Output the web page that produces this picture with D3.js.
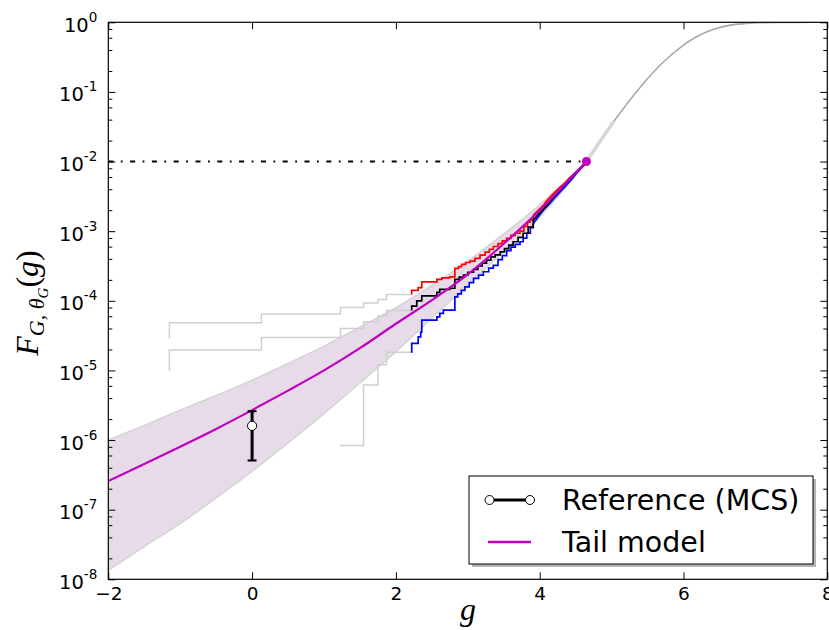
<!DOCTYPE html>
<html>
<head>
<meta charset="utf-8">
<script src="https://cdn.jsdelivr.net/npm/d3@7"></script>
<style>
  html, body { margin: 0; padding: 0; background: #fff; }
  svg { display: block; }
</style>
</head>
<body>
<svg id="chart" width="829" height="630"></svg>
<script>
// ---------------- data ----------------
const xTicks = [-2, 0, 2, 4, 6, 8];
const xTickLabels = ["\u22122", "0", "2", "4", "6", "8"];
const yExponents = [0, -1, -2, -3, -4, -5, -6, -7, -8];

// full distribution (grey S-curve)
const cdfX = [4.65, 4.84, 5.02, 5.26, 5.49, 5.72, 5.95, 6.18, 6.41, 6.65, 6.88, 7.1, 7.3, 7.6, 8.0];
const cdfF = [0.0100, 0.0195, 0.0363, 0.0776, 0.151, 0.269, 0.43, 0.62, 0.79, 0.91, 0.966, 0.986, 0.995, 0.999, 1.0];

// tail model (log10 F) and its confidence band
const tailX  = [-2, -1.5, -1, -0.5, 0, 0.5, 1, 1.5, 2, 2.5, 3, 3.5, 4, 4.3, 4.65];
const tailLog = [-6.59, -6.345, -6.095, -5.84, -5.57, -5.29, -5.00, -4.68, -4.33, -3.99, -3.62, -3.18, -2.70, -2.38, -2.0];
const bandUpperLog = [-6.0, -5.79, -5.57, -5.36, -5.14, -4.90, -4.65, -4.38, -4.10, -3.78, -3.43, -3.04, -2.62, -2.34, -2.0];
const bandLowerLog = [-7.87, -7.53, -7.2, -6.83, -6.45, -6.04, -5.62, -5.18, -4.73, -4.25, -3.77, -3.29, -2.80, -2.45, -2.0];

// empirical CDF steps: grey part (low probabilities) then coloured part
const upperGreyX = [-1.15, -1.15, 0.13, 1.23, 1.55, 1.75, 1.87, 2.22];
const upperGreyLog = [-4.54, -4.316, -4.19, -4.095, -4.03, -3.98, -3.908, -3.908];
const midGreyX = [-1.15, -1.15, 0.13, 1.23, 1.55, 1.75, 1.87, 2.22];
const midGreyLog = [-5.01, -4.708, -4.526, -4.397, -4.30, -4.22, -4.14, -4.14];
const lowGreyX = [1.22, 1.55, 1.75, 1.87, 2.22];
const lowGreyLog = [-6.08, -5.21, -4.92, -4.74, -4.747];

const redX = [2.22, 2.22, 2.31, 2.36, 2.57, 2.64, 2.75, 2.82, 2.87, 2.915, 2.97, 3.03, 3.1, 3.17, 3.24, 3.3, 3.355, 3.42, 3.48, 3.54, 3.6, 3.66, 3.726, 3.78, 3.83, 3.865, 3.91, 3.96, 4.05, 4.1, 4.2, 4.28, 4.33, 4.42, 4.5, 4.58, 4.65];
const redLog = [-3.908, -3.85, -3.81, -3.727, -3.693, -3.67, -3.655, -3.535, -3.51, -3.477, -3.45, -3.43, -3.39, -3.343, -3.30, -3.26, -3.22, -3.18, -3.14, -3.103, -3.06, -3.03, -3.0, -2.93, -2.87, -2.84, -2.77, -2.72, -2.63, -2.56, -2.45, -2.37, -2.33, -2.23, -2.16, -2.08, -2.0];

const blackX = [2.22, 2.22, 2.29, 2.36, 2.57, 2.61, 2.75, 2.82, 2.88, 2.94, 3.0, 3.08, 3.14, 3.2, 3.26, 3.32, 3.38, 3.45, 3.51, 3.57, 3.63, 3.7, 3.77, 3.84, 3.91, 3.98, 4.05, 4.1, 4.2, 4.3, 4.4, 4.5, 4.58, 4.65];
const blackLog = [-4.14, -4.076, -4.0, -3.928, -3.88, -3.836, -3.82, -3.693, -3.66, -3.63, -3.59, -3.55, -3.5, -3.46, -3.415, -3.37, -3.34, -3.296, -3.25, -3.2, -3.152, -3.09, -3.03, -2.94, -2.84, -2.76, -2.69, -2.63, -2.5, -2.39, -2.27, -2.16, -2.08, -2.0];

const blueX = [2.22, 2.22, 2.31, 2.345, 2.36, 2.57, 2.61, 2.66, 2.82, 2.86, 2.91, 2.96, 3.02, 3.08, 3.15, 3.215, 3.29, 3.355, 3.42, 3.48, 3.54, 3.6, 3.66, 3.726, 3.77, 3.82, 3.87, 3.91, 3.96, 4.05, 4.14, 4.2, 4.28, 4.36, 4.44, 4.51, 4.58, 4.65];
const blueLog = [-4.747, -4.612, -4.517, -4.45, -4.277, -4.23, -4.18, -4.134, -3.943, -3.9, -3.85, -3.80, -3.74, -3.678, -3.63, -3.583, -3.53, -3.49, -3.41, -3.35, -3.28, -3.23, -3.19, -3.152, -3.10, -3.03, -2.95, -2.89, -2.82, -2.70, -2.6, -2.53, -2.44, -2.35, -2.26, -2.17, -2.09, -2.02];

// MCS reference point with error bar
const refX = [0];
const refF = [1.6e-6];
const refLo = [5.1e-7];
const refHi = [2.6e-6];

// threshold
const threshX = [-2, 4.65];
const threshF = 1e-2;

const legendLabels = ["Reference (MCS)", "Tail model"];

// ---------------- layout ----------------
const svg = d3.select("#chart");
const L = 108.3, R = 827.3, T = 22.3, B = 579.3;
const x = d3.scaleLinear().domain([-2, 8]).range([L, R]);
const y = d3.scaleLog().domain([1e-8, 1]).range([B, T]);
const P = v => Math.pow(10, v);

const MAG = "#bf00bf";
const plot = svg.append("g");
const clipId = "clipP";
svg.append("defs").append("clipPath").attr("id", clipId)
  .append("rect").attr("x", L).attr("y", T).attr("width", R - L).attr("height", B - T);
plot.attr("clip-path", `url(#${clipId})`);

// band
const bandData = tailX.map((d, i) => ({x: d, lo: P(bandLowerLog[i]), hi: P(bandUpperLog[i])}));
plot.append("path").datum(bandData)
  .attr("d", d3.area().x(d => x(d.x)).y0(d => y(d.lo)).y1(d => y(d.hi)).curve(d3.curveMonotoneX))
  .attr("fill", "#e7dbe9").attr("stroke", "none");
const smooth = d3.line().x(d => x(d[0])).y(d => y(d[1])).curve(d3.curveMonotoneX);
plot.append("path").datum(tailX.map((d, i) => [d, P(bandUpperLog[i])]))
  .attr("d", smooth).attr("fill", "none").attr("stroke", "#d4d4d4").attr("stroke-width", 1.5);
plot.append("path").datum(tailX.map((d, i) => [d, P(bandLowerLog[i])]))
  .attr("d", smooth).attr("fill", "none").attr("stroke", "#d4d4d4").attr("stroke-width", 1.5);

// grey CDF curve
const cdfPts = cdfX.map((d, i) => [d, cdfF[i]]);
const smoothBasis = d3.line().x(d => x(d[0])).y(d => y(d[1])).curve(d3.curveCatmullRom.alpha(0.5));
plot.append("path").datum(cdfPts)
  .attr("d", smoothBasis).attr("fill", "none").attr("stroke", "#a9a9a9").attr("stroke-width", 1.6);
plot.append("path").datum(cdfPts.slice(0, 3))
  .attr("d", smoothBasis).attr("fill", "none")
  .attr("stroke", "#d6d6d6").attr("stroke-width", 3.5).attr("stroke-linecap", "round");

// step lines: staircase, jagged line near the top where the steps become tiny
const stepLine = d3.line().x(d => x(d[0])).y(d => y(d[1])).curve(d3.curveStepAfter);
const linLine = d3.line().x(d => x(d[0])).y(d => y(d[1]));
function steps(xs, logs, color, w, split) {
  const pts = xs.map((d, i) => [d, P(logs[i])]);
  let k = pts.findIndex(p => p[0] >= split);
  if (k < 0) k = pts.length - 1;
  plot.append("path").datum(pts.slice(0, k + 1))
    .attr("d", stepLine).attr("fill", "none").attr("stroke", color)
    .attr("stroke-width", w).attr("stroke-linejoin", "miter");
  if (k < pts.length - 1) {
    plot.append("path").datum(pts.slice(k))
      .attr("d", linLine).attr("fill", "none").attr("stroke", color)
      .attr("stroke-width", w).attr("stroke-linejoin", "round");
  }
}
steps(upperGreyX, upperGreyLog, "#cfcfcf", 1.5, 99);
steps(midGreyX, midGreyLog, "#cfcfcf", 1.5, 99);
steps(lowGreyX, lowGreyLog, "#cfcfcf", 1.5, 99);
steps(blueX, blueLog, "#0000ff", 1.7, 3.9);
steps(redX, redLog, "#ff0000", 1.7, 3.9);
steps(blackX, blackLog, "#000000", 1.7, 3.9);

// tail model
plot.append("path").datum(tailX.map((d, i) => [d, P(tailLog[i])]))
  .attr("d", smooth).attr("fill", "none").attr("stroke", MAG).attr("stroke-width", 2.2);

// threshold dash-dot
plot.append("line")
  .attr("x1", x(threshX[0])).attr("x2", x(threshX[1]))
  .attr("y1", y(threshF)).attr("y2", y(threshF))
  .attr("stroke", "#000").attr("stroke-width", 2)
  .attr("stroke-dasharray", "5,7.5,1.8,7.5");

// end point of tail model
plot.append("circle").attr("cx", x(threshX[1])).attr("cy", y(threshF)).attr("r", 4.5)
  .attr("fill", MAG);

// error bar
refX.forEach((d, i) => {
  const g = plot.append("g");
  g.append("line").attr("x1", x(d)).attr("x2", x(d)).attr("y1", y(refLo[i])).attr("y2", y(refHi[i]))
    .attr("stroke", "#000").attr("stroke-width", 3);
  [refLo[i], refHi[i]].forEach(v => g.append("line")
    .attr("x1", x(d) - 4.5).attr("x2", x(d) + 4.5).attr("y1", y(v)).attr("y2", y(v))
    .attr("stroke", "#000").attr("stroke-width", 2));
  g.append("circle").attr("cx", x(d)).attr("cy", y(refF[i])).attr("r", 4.6)
    .attr("fill", "#fff").attr("stroke", "#000").attr("stroke-width", 1);
});

// ---------------- axes ----------------
const majorY = yExponents.map(e => Math.pow(10, e));
const minorY = [];
yExponents.slice(1).forEach(e => [2, 4, 6, 8].forEach(m => minorY.push(m * Math.pow(10, e))));
const axG = svg.append("g");
function styleAxis(g) {
  g.select(".domain").remove();
  g.selectAll(".tick line").attr("stroke", "#000").attr("stroke-width", 1);
}
axG.append("g").attr("transform", `translate(0,${B})`)
  .call(d3.axisBottom(x).tickValues(xTicks).tickSizeInner(-7).tickSizeOuter(0).tickPadding(9)
    .tickFormat((d, i) => xTickLabels[i]))
  .call(styleAxis)
  .call(g => g.selectAll(".tick text").attr("font-family", "DejaVu Sans").attr("font-size", 18.5)
    .attr("fill", "#000").attr("dy", null).attr("y", 21));
axG.append("g").attr("transform", `translate(0,${T})`)
  .call(d3.axisTop(x).tickValues(xTicks).tickSizeInner(-7).tickSizeOuter(0).tickFormat(""))
  .call(styleAxis);
axG.append("g").attr("transform", `translate(${L},0)`)
  .call(d3.axisLeft(y).tickValues(majorY).tickSizeInner(-7).tickSizeOuter(0).tickPadding(11)
    .tickFormat(() => ""))
  .call(styleAxis)
  .call(g => g.selectAll(".tick text").each(function(d) {
    const t = d3.select(this).attr("font-family", "DejaVu Sans").attr("fill", "#000")
      .attr("text-anchor", "end").attr("dy", null).attr("y", 9).attr("x", -11);
    t.text(null);
    t.append("tspan").attr("font-size", 19.5).text("10");
    t.append("tspan").attr("font-size", 13.5).attr("dy", -10).text(String(Math.round(Math.log10(d))));
  }));
axG.append("g").attr("transform", `translate(${L},0)`)
  .call(d3.axisLeft(y).tickValues(minorY).tickSizeInner(-4).tickSizeOuter(0).tickFormat(""))
  .call(styleAxis);
axG.append("g").attr("transform", `translate(${R},0)`)
  .call(d3.axisRight(y).tickValues(majorY).tickSizeInner(-7).tickSizeOuter(0).tickFormat(""))
  .call(styleAxis);
axG.append("g").attr("transform", `translate(${R},0)`)
  .call(d3.axisRight(y).tickValues(minorY).tickSizeInner(-4).tickSizeOuter(0).tickFormat(""))
  .call(styleAxis);
svg.append("rect").attr("x", L).attr("y", T).attr("width", R - L).attr("height", B - T)
  .attr("fill", "none").attr("stroke", "#000").attr("stroke-width", 1.2);

// axis titles
svg.append("text").attr("x", 468).attr("y", 620).attr("text-anchor", "middle")
  .attr("font-family", "Liberation Serif").attr("font-style", "italic").attr("font-size", 32)
  .text("g");
const yl = svg.append("text").attr("transform", "translate(38,303) rotate(-90)")
  .attr("text-anchor", "middle").attr("font-family", "Liberation Serif").attr("font-size", 32);
yl.append("tspan").attr("font-style", "italic").text("F");
yl.append("tspan").attr("font-style", "italic").attr("font-size", 22).attr("dy", 6).text("G");
yl.append("tspan").attr("font-size", 22).text(", ");
yl.append("tspan").attr("font-style", "italic").attr("font-size", 22).text("\u03b8");
yl.append("tspan").attr("font-style", "italic").attr("font-size", 15).attr("dy", 4).text("G");
yl.append("tspan").attr("dy", -10).text("(");
yl.append("tspan").attr("font-style", "italic").text("g");
yl.append("tspan").text(")");

// ---------------- legend ----------------
const lg = svg.append("g");
lg.append("rect").attr("x", 472).attr("y", 479).attr("width", 344).attr("height", 88)
  .attr("fill", "#b5b5b5");
lg.append("rect").attr("x", 469).attr("y", 476).attr("width", 344).attr("height", 88)
  .attr("fill", "#fff").attr("stroke", "#000").attr("stroke-width", 1);
lg.append("line").attr("x1", 489.5).attr("x2", 530).attr("y1", 500).attr("y2", 500)
  .attr("stroke", "#000").attr("stroke-width", 3);
[489.5, 530].forEach(cx => lg.append("circle").attr("cx", cx).attr("cy", 500).attr("r", 4.5)
  .attr("fill", "#fff").attr("stroke", "#000").attr("stroke-width", 1));
lg.append("line").attr("x1", 488).attr("x2", 531).attr("y1", 542).attr("y2", 542)
  .attr("stroke", MAG).attr("stroke-width", 2.5);
lg.selectAll("text.lt").data(legendLabels).enter().append("text")
  .attr("x", 562).attr("y", (d, i) => 510 + i * 42)
  .attr("font-family", "DejaVu Sans").attr("font-size", 28.5).attr("fill", "#000")
  .text(d => d);
</script>
</body>
</html>
